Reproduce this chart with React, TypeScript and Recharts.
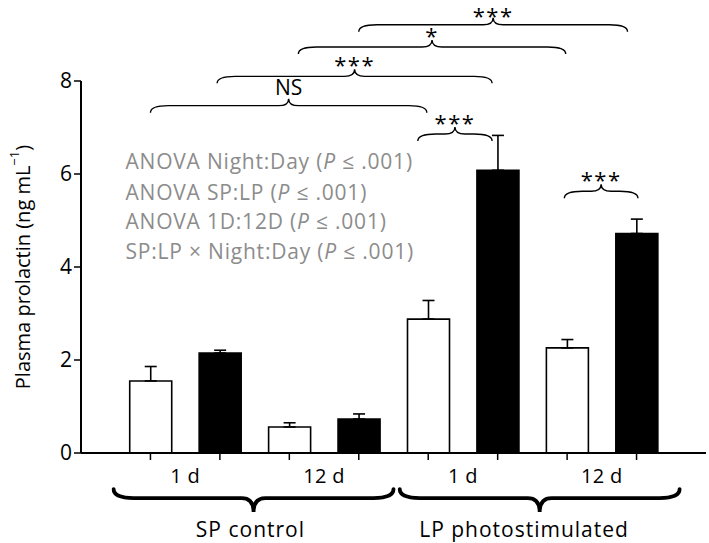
import React from 'react';
import { BarChart, Bar, XAxis, YAxis, ErrorBar, Cell, ReferenceLine, ReferenceDot } from 'recharts';

// ---- data ----
const positions = [0, 1, 2, 3, 4, 5, 6, 7];
const photoperiods = ['SP', 'SP', 'SP', 'SP', 'LP', 'LP', 'LP', 'LP'];
const durations = ['1 d', '1 d', '12 d', '12 d', '1 d', '1 d', '12 d', '12 d'];
const phases = ['Day', 'Night', 'Day', 'Night', 'Day', 'Night', 'Day', 'Night'];
const prolactin = [1.55, 2.15, 0.56, 0.73, 2.88, 6.08, 2.26, 4.72];
const sem = [0.31, 0.06, 0.09, 0.11, 0.4, 0.75, 0.18, 0.31];

const yTicks = [0, 2, 4, 6, 8];

const durationLabels = ['1 d', '12 d', '1 d', '12 d'];
const durationPos = [0.5, 2.5, 4.5, 6.5];

const groupLabels = ['SP control', 'LP photostimulated'];
const groupFrom = [-0.53, 3.59];
const groupTo = [3.5, 7.62];
const groupLabelPos = [1.44, 5.38];

const compLabels = ['NS', '***', '*', '***', '***', '***'];
const compFrom = [0, 0.96, 2.13, 3.0, 3.85, 5.96];
const compTo = [3.98, 4.92, 5.98, 6.87, 4.92, 7.02];
const compLevel = [7.47, 8.1, 8.73, 9.21, 6.86, 5.63];

const anovaLines = [
  ['ANOVA Night:Day (', 'P', ' ≤ .001)'],
  ['ANOVA SP:LP (', 'P', ' ≤ .001)'],
  ['ANOVA 1D:12D (', 'P', ' ≤ .001)'],
  ['SP:LP × Night:Day (', 'P', ' ≤ .001)'],
];
const anovaX = -0.36;
const anovaY = [6.26, 5.61, 4.97, 4.34];

const data = positions.map((p, i) => ({
  pos: p,
  photoperiod: photoperiods[i],
  duration: durations[i],
  phase: phases[i],
  value: prolactin[i],
  err: [0, sem[i]],
}));

const FONT = "'Open Sans', 'Noto Sans', sans-serif";

function bracePath(x1: number, x2: number, y: number, dir: number, tip: number, peak: number, rEnd: number, rPeak: number) {
  const xm = (x1 + x2) / 2;
  const t = -dir * tip;
  return `M${x1},${y + t} Q${x1},${y} ${x1 + rEnd},${y} L${xm - rPeak},${y} Q${xm},${y} ${xm},${y + dir * peak} Q${xm},${y} ${xm + rPeak},${y} L${x2 - rEnd},${y} Q${x2},${y} ${x2},${y + t}`;
}

const TopBrace = (label: string) => (props: any) => {
  const { x1, x2, y1 } = props;
  const xm = (x1 + x2) / 2;
  const isStar = label.indexOf('*') >= 0;
  return (
    <g>
      <path d={bracePath(x1, x2, y1, -1, 7, 7, 18, 10)} fill="none" stroke="#000" strokeWidth={1.4} />
      {isStar ? (
        <text x={xm} y={Math.max(y1 - 3, 24)} textAnchor="middle" fontFamily={FONT} fontSize={22} letterSpacing={1.5} fill="#000">
          {label}
        </text>
      ) : (
        <text x={xm} y={y1 - 11} textAnchor="middle" fontFamily={FONT} fontSize={21} fill="#000">
          {label}
        </text>
      )}
    </g>
  );
};

const BottomBrace = (props: any) => {
  const { x1, x2, y1 } = props;
  return <path d={bracePath(x1, x2, y1, 1, 9, 14, 20, 12)} fill="none" stroke="#000" strokeWidth={3.8} strokeLinecap="round" />;
};

const TextAt = (label: string, size: number, spacing: number) => (props: any) => (
  <text x={props.cx} y={props.cy} dy="0.36em" textAnchor="middle" fontFamily={FONT} fontSize={size} letterSpacing={spacing} fill="#000">
    {label}
  </text>
);

const AnovaAt = (parts: string[]) => (props: any) => (
  <text x={props.cx} y={props.cy} dy="0.36em" textAnchor="start" fontFamily={FONT} fontSize={21} letterSpacing={0.8} fill="#8c8c8c">
    <tspan>{parts[0]}</tspan>
    <tspan fontStyle="italic">{parts[1]}</tspan>
    <tspan>{parts[2]}</tspan>
  </text>
);

const YLabel = (props: any) => {
  const vb = props.viewBox || { x: 0, y: 81, width: 81, height: 372 };
  const cy = vb.y + vb.height / 2;
  const cx = 22;
  return (
    <text
      x={cx}
      y={cy}
      transform={`rotate(-90 ${cx} ${cy})`}
      textAnchor="middle"
      dominantBaseline="central"
      fontFamily={FONT}
      fontSize={20}
      fill="#000"
    >
      <tspan>Plasma prolactin (ng mL</tspan>
      <tspan fontSize={13} dy={-8}>−1</tspan>
      <tspan dy={8}>)</tspan>
    </text>
  );
};

const NoTick = () => <g />;

export default function App() {
  return (
    <div style={{ position: 'absolute', left: 0, top: 0, width: 709, height: 543, background: '#fff' }}>
      <BarChart width={709} height={543} data={data} margin={{ top: 81, right: 3, bottom: 60, left: 0 }}>
        <XAxis
          dataKey="pos"
          type="number"
          domain={[-1, 8]}
          ticks={positions}
          tick={NoTick}
          tickSize={7}
          height={30}
          axisLine={{ stroke: '#000', strokeWidth: 2 }}
          tickLine={{ stroke: '#000', strokeWidth: 1.5 }}
          allowDataOverflow
        />
        <YAxis
          type="number"
          domain={[0, 8]}
          ticks={yTicks}
          width={81}
          tickSize={7}
          tickMargin={2}
          axisLine={{ stroke: '#000', strokeWidth: 2 }}
          tickLine={{ stroke: '#000', strokeWidth: 1.5 }}
          tick={{ fontSize: 21, fill: '#000', fontFamily: FONT }}
          label={{ content: YLabel }}
          allowDataOverflow
        />
        <Bar dataKey="value" barSize={42} stroke="#000" strokeWidth={1.6} isAnimationActive={false}>
          {data.map((d, i) => (
            <Cell key={i} fill={d.phase === 'Night' ? '#000' : '#fff'} />
          ))}
          <ErrorBar dataKey="err" direction="y" width={6} stroke="#000" strokeWidth={1.6} isAnimationActive={false} />
        </Bar>
        {compLabels.map((lab, i) => (
          <ReferenceLine
            key={'c' + i}
            segment={[{ x: compFrom[i], y: compLevel[i] }, { x: compTo[i], y: compLevel[i] }]}
            ifOverflow="visible"
            shape={TopBrace(lab)}
          />
        ))}
        {groupLabels.map((lab, i) => (
          <ReferenceLine
            key={'g' + i}
            segment={[{ x: groupFrom[i], y: -0.97 }, { x: groupTo[i], y: -0.97 }]}
            ifOverflow="visible"
            shape={BottomBrace}
          />
        ))}
        {groupLabels.map((lab, i) => (
          <ReferenceDot key={'gl' + i} x={groupLabelPos[i]} y={-1.65} r={0} ifOverflow="visible" shape={TextAt(lab, 21, 1)} />
        ))}
        {durationLabels.map((lab, i) => (
          <ReferenceDot key={'d' + i} x={durationPos[i]} y={-0.49} r={0} ifOverflow="visible" shape={TextAt(lab, 20, 0.3)} />
        ))}
        {anovaLines.map((parts, i) => (
          <ReferenceDot key={'a' + i} x={anovaX} y={anovaY[i]} r={0} ifOverflow="visible" shape={AnovaAt(parts)} />
        ))}
      </BarChart>
    </div>
  );
}
